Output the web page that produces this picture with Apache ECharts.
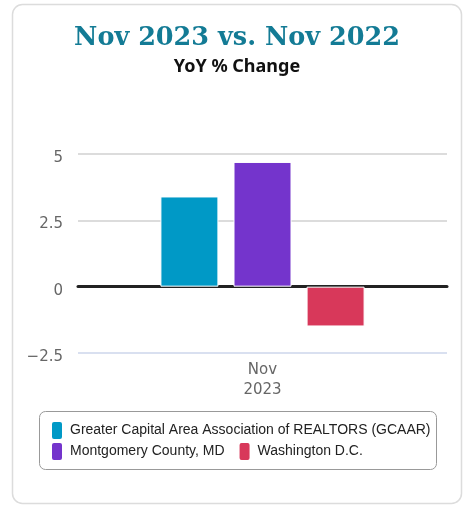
<!DOCTYPE html>
<html>
<head>
<meta charset="utf-8">
<script src="https://cdn.jsdelivr.net/npm/echarts@6/dist/echarts.min.js"></script>
<style>
  html, body { margin: 0; padding: 0; background: #fff; }
  #chart { width: 466px; height: 506px; }
</style>
</head>
<body>
<div id="chart"></div>
<script>
// categories and series
var categories = ['Nov\n2023'];
var seriesNames = ['Greater Capital Area Association of REALTORS (GCAAR)', 'Montgomery County, MD', 'Washington D.C.'];
var seriesColors = ['#0099c6', '#7434cc', '#d8385a'];
var gcaarValues = [3.4];
var montgomeryValues = [4.7];
var dcValues = [-1.5];
var yTicks = [-2.5, 0, 2.5, 5];

var chart = echarts.init(document.getElementById('chart'));

function barSeries(name, data, color) {
  return {
    name: name,
    type: 'bar',
    data: data,
    barWidth: 58,
    barGap: '26%',
    itemStyle: { color: color, borderColor: '#fff', borderWidth: 1 }
  };
}

var option = {
  animation: false,
  graphic: [
    {
      type: 'rect',
      shape: { x: 12.5, y: 4.5, width: 449, height: 499, r: 10 },
      style: { fill: 'none', stroke: '#dcdcdc', lineWidth: 1.5 },
      z: -1
    },
    {
      type: 'rect',
      shape: { x: 39.5, y: 411.5, width: 397, height: 58, r: 6 },
      style: { fill: 'none', stroke: '#999', lineWidth: 1 }
    }
  ],
  title: [
    {
      text: 'Nov 2023 vs. Nov 2022',
      left: 232, top: 20, textAlign: 'center',
      textStyle: { fontFamily: 'DejaVu Serif', fontWeight: 'bold', fontSize: 25.5, color: '#137b95' }
    },
    {
      text: 'YoY % Change',
      left: 232, top: 53, textAlign: 'center',
      textStyle: { fontFamily: 'Noto Sans', fontWeight: 'bold', fontSize: 18, color: '#111' }
    }
  ],
  legend: [
    {
      data: [seriesNames[0]],
      left: 50, top: 420,
      itemWidth: 12, itemHeight: 19, icon: 'roundRect',
      padding: 0,
      textStyle: { fontFamily: 'Liberation Sans', fontSize: 14, color: '#222', padding: [0, 0, 0, 2] }
    },
    {
      data: [seriesNames[1], seriesNames[2]],
      left: 50, top: 441,
      itemWidth: 12, itemHeight: 19, icon: 'roundRect', itemGap: 13,
      padding: 0,
      textStyle: { fontFamily: 'Liberation Sans', fontSize: 14, color: '#222', padding: [0, 0, 0, 2] }
    }
  ],
  grid: { left: 78, right: 19, top: 154, bottom: 153 },
  xAxis: [
    {
      type: 'category',
      data: categories,
      axisLine: { onZero: true, lineStyle: { color: '#222', width: 3 } },
      axisTick: { show: false },
      axisLabel: { show: false }
    },
    {
      type: 'category',
      data: categories,
      position: 'bottom',
      axisLine: { show: false },
      axisTick: { show: false },
      axisLabel: { fontFamily: 'DejaVu Sans', fontSize: 15, color: '#666', lineHeight: 20, margin: 7 }
    }
  ],
  yAxis: {
    type: 'value',
    min: yTicks[0],
    max: yTicks[yTicks.length - 1],
    interval: 2.5,
    axisLine: { show: false },
    axisTick: { show: false },
    axisLabel: {
      fontFamily: 'DejaVu Sans', fontSize: 15, color: '#666', margin: 15,
      verticalAlign: 'top', lineHeight: 8,
      formatter: function (v) { return v < 0 ? '\u2212' + Math.abs(v) : String(v); }
    },
    splitLine: { lineStyle: { color: ['#ccd6eb', '#d0d0d0', '#d0d0d0', '#d0d0d0'], width: 1.5 } }
  },
  series: [
    barSeries(seriesNames[0], gcaarValues, seriesColors[0]),
    barSeries(seriesNames[1], montgomeryValues, seriesColors[1]),
    barSeries(seriesNames[2], dcValues, seriesColors[2])
  ]
};

chart.setOption(option);
</script>
</body>
</html>
